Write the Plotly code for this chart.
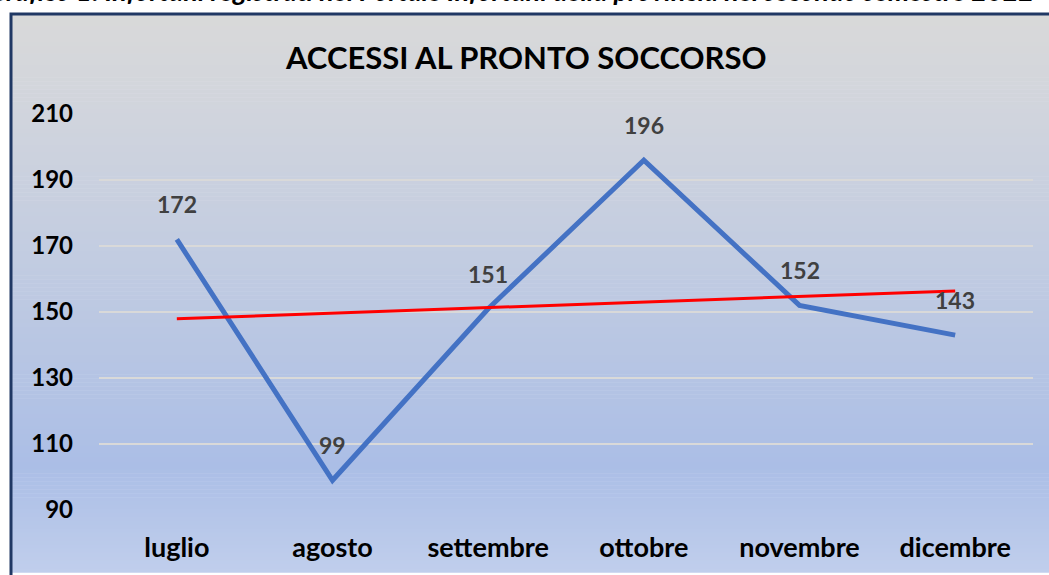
import numpy as np
import plotly.graph_objects as go

# ---- data ----
months = ["luglio", "agosto", "settembre", "ottobre", "novembre", "dicembre"]
accessi = [172, 99, 151, 196, 152, 143]
y_ticks = [90, 110, 130, 150, 170, 190, 210]
title_text = "ACCESSI AL PRONTO SOCCORSO"
caption_text = "Grafico 1: Infortuni registrati nel Portale Infortuni della provincia nel secondo semestre 2022"

# linear trendline (as Excel's linear trendline)
xi = np.arange(1, len(accessi) + 1)
slope, intercept = np.polyfit(xi, accessi, 1)
trend = list(slope * xi + intercept)

W, H = 1049, 575
L, R, T, B = 99, 1033, 114, 514  # plot area pixels


def px(xp):
    return (xp - L) / (R - L)


def py(yp):
    return (B - yp) / (B - T)


fig = go.Figure()

fig.add_trace(go.Scatter(
    x=months, y=accessi, mode="lines",
    line=dict(color="#4472C4", width=5),
    hoverinfo="x+y", showlegend=False,
))
fig.add_trace(go.Scatter(
    x=months, y=trend, mode="lines",
    line=dict(color="#FF0000", width=3),
    hoverinfo="skip", showlegend=False,
))

# data labels
for m, v in zip(months, accessi):
    fig.add_annotation(
        x=m, y=v, text=str(v), showarrow=False, yshift=35,
        xanchor="center", yanchor="middle",
        font=dict(family="Lato", size=23, color="#404040", weight="bold"),
    )

# background gradient (chart area) via bands
stops = [
    (13, (217, 217, 217)),
    (120, (208, 212, 221)),
    (260, (194, 204, 225)),
    (470, (171, 190, 230)),
    (575, (192, 206, 236)),
]
shapes = []
ys = np.arange(13, 576, 4)
for y0 in ys:
    yc = y0 + 2
    for (a, ca), (b, cb) in zip(stops[:-1], stops[1:]):
        if a <= yc <= b:
            t = (yc - a) / (b - a)
            c = tuple(int(round(ca[k] + (cb[k] - ca[k]) * t)) for k in range(3))
            break
    else:
        c = stops[-1][1]
    shapes.append(dict(
        type="rect", xref="paper", yref="paper", layer="below",
        x0=px(11), x1=px(1060), y0=py(min(y0 + 4.5, 580)), y1=py(y0),
        line=dict(width=0), fillcolor="rgb(%d,%d,%d)" % c,
    ))
# frame
shapes.append(dict(
    type="rect", xref="paper", yref="paper", layer="above",
    x0=px(11), x1=px(1065), y0=py(590), y1=py(13),
    line=dict(width=3, color="#203864"), fillcolor="rgba(0,0,0,0)",
))

fig.add_annotation(
    xref="paper", yref="paper", x=px(525), y=py(56), text=title_text,
    showarrow=False, xanchor="center", yanchor="middle",
    font=dict(family="Lato", size=31, color="#000000", weight="bold"),
)
fig.add_annotation(
    xref="paper", yref="paper", x=px(-14), y=py(8), text="<i>" + caption_text + "</i>",
    showarrow=False, xanchor="left", yanchor="bottom",
    font=dict(family="Lato", size=27, color="#000000", weight="bold"),
)

fig.update_layout(
    width=W, height=H,
    margin=dict(l=L, r=W - R, t=T, b=H - B),
    paper_bgcolor="#ffffff",
    plot_bgcolor="rgba(0,0,0,0)",
    shapes=shapes,
    xaxis=dict(
        type="category", range=[-0.5, len(months) - 0.5],
        showgrid=False, zeroline=False, showline=False, ticks="",
        tickfont=dict(family="Lato", size=27, color="#000000", weight="bold"),
        ticklabelstandoff=19,
    ),
    yaxis=dict(
        range=[90, 210], tickvals=y_ticks,
        showgrid=True, gridcolor="#d9d9d9", gridwidth=2,
        zeroline=False, showline=False, ticks="",
        tickfont=dict(family="Lato", size=24, color="#000000", weight="bold"),
        ticklabelstandoff=25,
    ),
)

fig.write_html(
    "out.html",
    config={"displayModeBar": False},
    post_script="document.body.style.margin='0';document.body.style.overflow='hidden';",
)
